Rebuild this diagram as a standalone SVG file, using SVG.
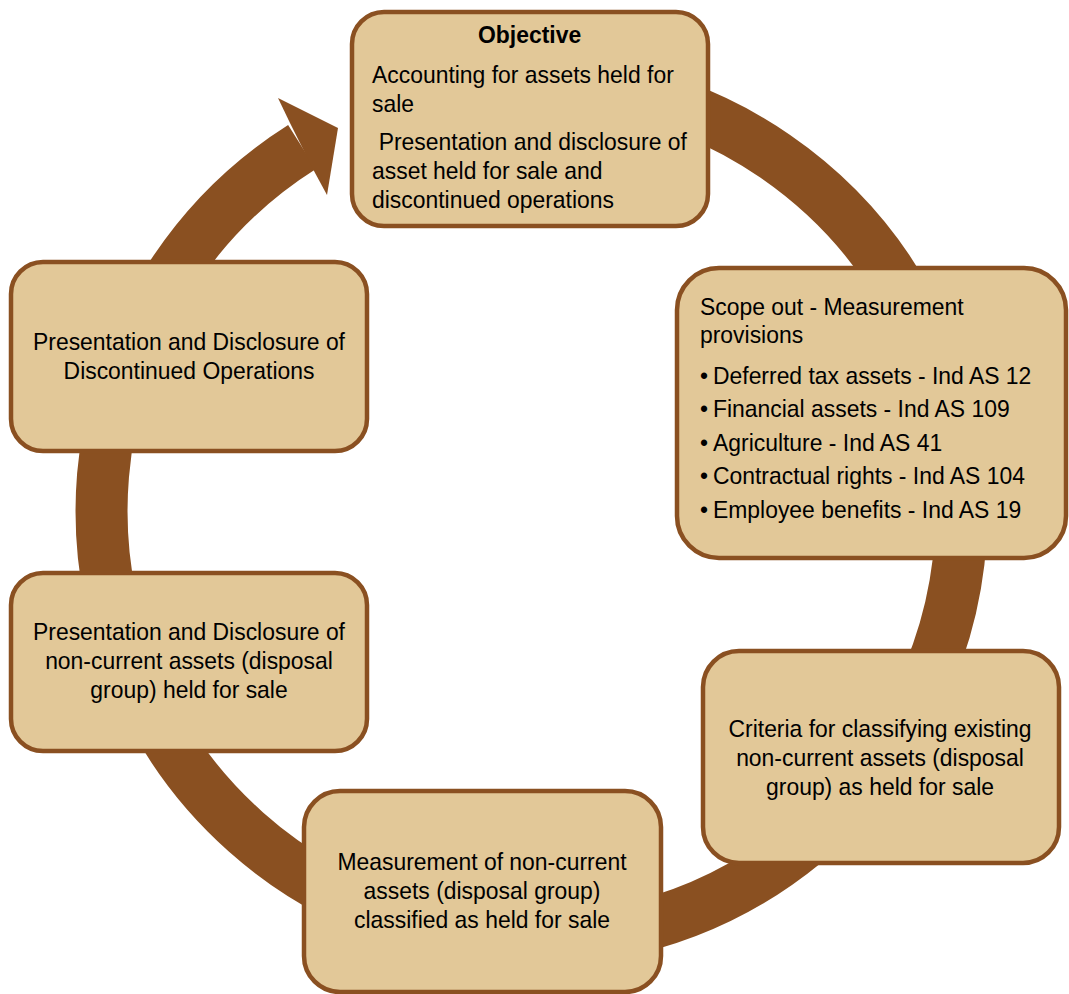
<svg xmlns="http://www.w3.org/2000/svg" width="1069" height="994" viewBox="0 0 1069 994">
<style>
.box{fill:#E2C898;stroke:#8A5021;stroke-width:4.5}
.t{font-family:"Liberation Sans",Arial,sans-serif;font-size:24px;fill:#000}
.c{text-anchor:middle}
.b{font-weight:bold}
</style>
<rect width="1069" height="994" fill="#fff"/>
<g id="connectors">
<path d="M602.7,86.5 A430,430 0 1 1 302,147" fill="none" stroke="#8A5021" stroke-width="52"/>
<polygon points="290,123 278,98 338,128 327,195 314,171" fill="#8A5021"/>
</g>
<g id="objective">
<rect class="box" x="352" y="12" width="356" height="214" rx="32"/>
<g class="t" transform="translate(372,0) scale(0.955,1)">
<text class="b c" x="165" y="43">Objective</text>
<text x="0" y="83">Accounting for assets held for</text>
<text x="0" y="112">sale</text>
<text x="7" y="150">Presentation and disclosure of</text>
<text x="0" y="179">asset held for sale and</text>
<text x="0" y="208">discontinued operations</text>
</g>
</g>
<g id="scope">
<rect class="box" x="677" y="268" width="389" height="290" rx="42"/>
<g class="t" transform="translate(700,0) scale(0.955,1)">
<text x="0" y="315">Scope out - Measurement</text>
<text x="0" y="343">provisions</text>
<text x="0" y="384">•<tspan x="13.6">Deferred tax assets - Ind AS 12</tspan></text>
<text x="0" y="417.5">•<tspan x="13.6">Financial assets - Ind AS 109</tspan></text>
<text x="0" y="451">•<tspan x="13.6">Agriculture - Ind AS 41</tspan></text>
<text x="0" y="484.5">•<tspan x="13.6">Contractual rights - Ind AS 104</tspan></text>
<text x="0" y="518">•<tspan x="13.6">Employee benefits - Ind AS 19</tspan></text>
</g>
</g>
<g id="criteria">
<rect class="box" x="703" y="651" width="356" height="212" rx="36"/>
<g class="t c" transform="translate(880,0) scale(0.955,1)">
<text x="0" y="737">Criteria for classifying existing</text>
<text x="0" y="766">non-current assets (disposal</text>
<text x="0" y="795">group) as held for sale</text>
</g>
</g>
<g id="measurement">
<rect class="box" x="304" y="791" width="357" height="201" rx="36"/>
<g class="t c" transform="translate(482,0) scale(0.955,1)">
<text x="0" y="870">Measurement of non-current</text>
<text x="0" y="899">assets (disposal group)</text>
<text x="0" y="928">classified as held for sale</text>
</g>
</g>
<g id="presentation-nca">
<rect class="box" x="11" y="573" width="356" height="178" rx="32"/>
<g class="t c" transform="translate(189,0) scale(0.955,1)">
<text x="0" y="640">Presentation and Disclosure of</text>
<text x="0" y="669">non-current assets (disposal</text>
<text x="0" y="698">group) held for sale</text>
</g>
</g>
<g id="presentation-disc">
<rect class="box" x="11" y="262" width="356" height="189" rx="32"/>
<g class="t c" transform="translate(189,0) scale(0.955,1)">
<text x="0" y="350">Presentation and Disclosure of</text>
<text x="0" y="379">Discontinued Operations</text>
</g>
</g>
</svg>
